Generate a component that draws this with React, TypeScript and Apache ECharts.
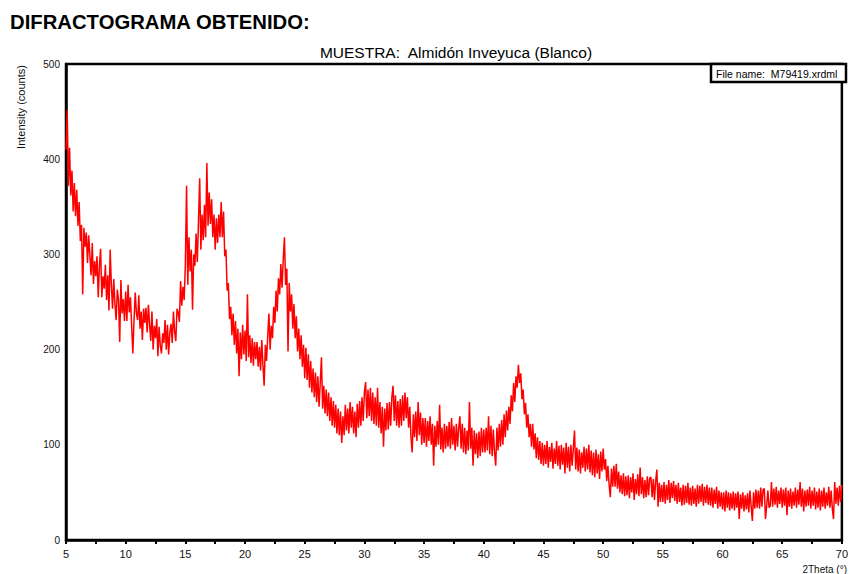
import React, { useEffect, useRef } from "react";
import * as echarts from "echarts";

const TITLE = "DIFRACTOGRAMA OBTENIDO:";
const SUBTITLE = "MUESTRA:  Almidón Inveyuca (Blanco)";
const FILE_NAME = "File name:  M79419.xrdml";
const X_NAME = "2Theta (°)";
const Y_NAME = "Intensity (counts)";

// scan grid: 2Theta from 5° to 70° in 0.1° steps
const SCAN_START = 5;
const SCAN_STEP = 0.1;

const xTicks = [5, 10, 15, 20, 25, 30, 35, 40, 45, 50, 55, 60, 65, 70];
const yTicks = [0, 100, 200, 300, 400, 500];

// intensities (counts), 10 values per degree
const counts5to15 = [
  410, 452, 372, 412, 362, 388, 345, 375, 340, 368,
  330, 355, 314, 331, 258, 328, 308, 323, 291, 320,
  299, 278, 312, 269, 293, 277, 298, 255, 288, 306,
  255, 277, 264, 289, 252, 278, 241, 305, 268, 243,
  274, 248, 231, 263, 252, 208, 273, 238, 253, 230,
  261, 230, 268, 239, 255, 225, 196, 231, 260, 238,
  231, 257, 222, 240, 210, 243, 228, 244, 218, 247,
  227, 209, 240, 200, 225, 212, 232, 193, 224, 204,
  196, 217, 207, 231, 200, 226, 195, 218, 227, 207,
  240, 219, 209, 243, 239, 229, 272, 246, 266, 252,
];
const counts15to25 = [
  290, 372, 268, 318, 282, 305, 242, 300, 288, 322,
  292, 335, 380, 305, 342, 315, 352, 318, 396, 330,
  365, 332, 358, 318, 342, 305, 338, 312, 342, 318,
  355, 318, 345, 298, 305, 262, 270, 232, 245, 215,
  238, 205, 230, 196, 222, 172, 218, 190, 226, 195,
  220, 188, 258, 192, 215, 186, 212, 183, 208, 190,
  208, 182, 203, 178, 210, 184, 162, 205, 188, 214,
  238, 200, 225, 212, 245, 228, 262, 240, 275, 258,
  290, 265, 295, 318, 268, 285, 198, 270, 240, 258,
  222, 248, 212, 235, 198, 222, 190, 215, 182, 205,
];
const counts25to35 = [
  170, 202, 168, 195, 160, 188, 155, 180, 150, 176,
  145, 172, 140, 165, 192, 138, 162, 133, 158, 130,
  155, 125, 150, 120, 146, 118, 142, 112, 138, 110,
  135, 102, 130, 110, 142, 115, 138, 112, 145, 118,
  140, 112, 135, 108, 143, 118, 146, 120, 150, 125,
  155, 166, 128, 158, 130, 160, 125, 155, 122, 150,
  120, 160, 118, 145, 112, 140, 98, 138, 115, 144,
  116, 145, 120, 150, 162, 125, 152, 120, 146, 118,
  148, 120, 152, 125, 155, 128, 150, 118, 140, 108,
  92, 132, 108, 135, 104, 145, 110, 134, 100, 128,
];
const counts35to45 = [
  102, 128, 98, 125, 104, 130, 100, 122, 78, 120,
  98, 125, 100, 142, 95, 118, 92, 122, 96, 120,
  98, 124, 96, 128, 100, 120, 94, 122, 98, 118,
  130, 96, 122, 92, 118, 90, 115, 94, 145, 96,
  118, 78, 115, 90, 112, 86, 114, 88, 118, 92,
  116, 92, 118, 94, 130, 90, 120, 88, 116, 92,
  78, 118, 94, 122, 98, 126, 100, 132, 108, 136,
  115, 140, 122, 152, 135, 165, 145, 172, 160, 184,
  165, 175, 148, 158, 132, 144, 118, 132, 108, 122,
  98, 122, 95, 112, 86, 108, 84, 104, 80, 102,
];
const counts45to55 = [
  78, 100, 80, 104, 76, 98, 82, 102, 75, 96,
  80, 104, 78, 99, 74, 100, 79, 97, 70, 102,
  76, 98, 72, 100, 78, 96, 115, 74, 97, 72,
  95, 70, 92, 76, 98, 72, 96, 74, 100, 71,
  94, 68, 92, 66, 95, 70, 90, 64, 93, 72,
  96, 74, 85, 62, 78, 58, 45, 75, 56, 78,
  56, 80, 54, 72, 50, 68, 48, 70, 46, 67,
  47, 68, 44, 66, 50, 70, 42, 64, 48, 69,
  46, 76, 48, 66, 44, 63, 45, 67, 47, 65,
  66, 45, 64, 42, 62, 74, 35, 60, 40, 58,
];
const counts55to65 = [
  40, 61, 38, 58, 42, 63, 39, 60, 44, 62,
  41, 58, 38, 60, 40, 55, 36, 58, 37, 57,
  39, 60, 37, 55, 36, 57, 38, 54, 35, 58,
  38, 57, 40, 59, 36, 56, 39, 58, 37, 55,
  36, 55, 34, 53, 38, 56, 33, 52, 35, 50,
  32, 50, 30, 52, 34, 50, 31, 49, 33, 51,
  31, 49, 34, 51, 22, 48, 33, 50, 30, 47,
  32, 49, 29, 52, 35, 20, 50, 33, 53, 34,
  52, 33, 55, 35, 53, 54, 22, 36, 52, 34,
  36, 61, 35, 54, 37, 56, 34, 52, 38, 55,
];
const counts65to70 = [
  34, 53, 36, 55, 26, 52, 35, 54, 33, 51,
  36, 55, 34, 53, 37, 61, 35, 54, 30, 52,
  35, 53, 36, 56, 33, 52, 36, 55, 32, 51,
  34, 54, 31, 52, 35, 55, 33, 50, 36, 56,
  34, 52, 33, 22, 61, 38, 55, 36, 57, 40,
  58,
];

const FONT = 'Arial, "Liberation Sans", Helvetica, sans-serif';

export default function App() {
  const ref = useRef<HTMLDivElement>(null);

  useEffect(() => {
    if (!ref.current) return;
    const chart = echarts.init(ref.current, undefined, { renderer: "svg" });
    const counts = [
      ...counts5to15,
      ...counts15to25,
      ...counts25to35,
      ...counts35to45,
      ...counts45to55,
      ...counts55to65,
      ...counts65to70,
    ];
    const data = counts.map((c, i) => [
      Math.round((SCAN_START + i * SCAN_STEP) * 10) / 10,
      c,
    ]);

    chart.setOption({
      animation: false,
      backgroundColor: "#ffffff",
      grid: {
        left: 66,
        right: 5,
        top: 64,
        bottom: 34,
        show: true,
        borderColor: "#000",
        borderWidth: 2.5,
        backgroundColor: "transparent",
      },
      xAxis: {
        type: "value",
        min: xTicks[0],
        max: xTicks[xTicks.length - 1],
        interval: 5,
        axisLine: { show: true, lineStyle: { color: "#000", width: 2.5 } },
        axisTick: {
          show: true,
          inside: false,
          length: 4,
          lineStyle: { color: "#000", width: 2 },
        },
        minorTick: {
          show: true,
          splitNumber: 2,
          length: 4,
          lineStyle: { color: "#000", width: 2 },
        },
        splitLine: { show: false },
        axisLabel: {
          color: "#111",
          fontSize: 11,
          fontFamily: FONT,
          margin: 8,
          showMinLabel: true,
          showMaxLabel: true,
        },
      },
      yAxis: {
        type: "value",
        min: yTicks[0],
        max: yTicks[yTicks.length - 1],
        interval: 100,
        axisLine: { show: true, lineStyle: { color: "#000", width: 2.5 } },
        axisTick: { show: false },
        splitLine: { show: false },
        axisLabel: {
          color: "#111",
          fontSize: 10,
          fontFamily: FONT,
          margin: 6,
        },
      },
      series: [
        {
          type: "line",
          data,
          showSymbol: false,
          symbol: "none",
          silent: true,
          lineStyle: { color: "#ff0000", width: 1.5 },
          z: 2,
        },
      ],
      graphic: [
        {
          type: "text",
          left: 10,
          top: 12,
          style: {
            text: TITLE,
            fill: "#000",
            font: `bold 20.3px ${FONT}`,
          },
        },
        {
          type: "text",
          x: 456,
          y: 52,
          style: {
            text: SUBTITLE,
            fill: "#000",
            font: `15.5px ${FONT}`,
            align: "center",
            verticalAlign: "middle",
          },
        },
        {
          type: "rect",
          z: 100,
          shape: { x: 711, y: 64, width: 135, height: 18 },
          style: { fill: "#fff", stroke: "#000", lineWidth: 2.5 },
        },
        {
          type: "text",
          z: 101,
          x: 716,
          y: 73.5,
          style: {
            text: FILE_NAME,
            fill: "#000",
            font: `10.5px ${FONT}`,
            verticalAlign: "middle",
          },
        },
        {
          type: "text",
          x: 21,
          y: 107,
          rotation: Math.PI / 2,
          style: {
            text: Y_NAME,
            fill: "#111",
            font: `11px ${FONT}`,
            align: "center",
            verticalAlign: "middle",
          },
        },
        {
          type: "text",
          x: 847,
          y: 569,
          style: {
            text: X_NAME,
            fill: "#111",
            font: `10px ${FONT}`,
            align: "right",
            verticalAlign: "middle",
          },
        },
      ],
    });

    return () => chart.dispose();
  }, []);

  return (
    <div
      ref={ref}
      style={{
        position: "fixed",
        left: 0,
        top: 0,
        width: 851,
        height: 574,
        background: "#fff",
      }}
    />
  );
}
